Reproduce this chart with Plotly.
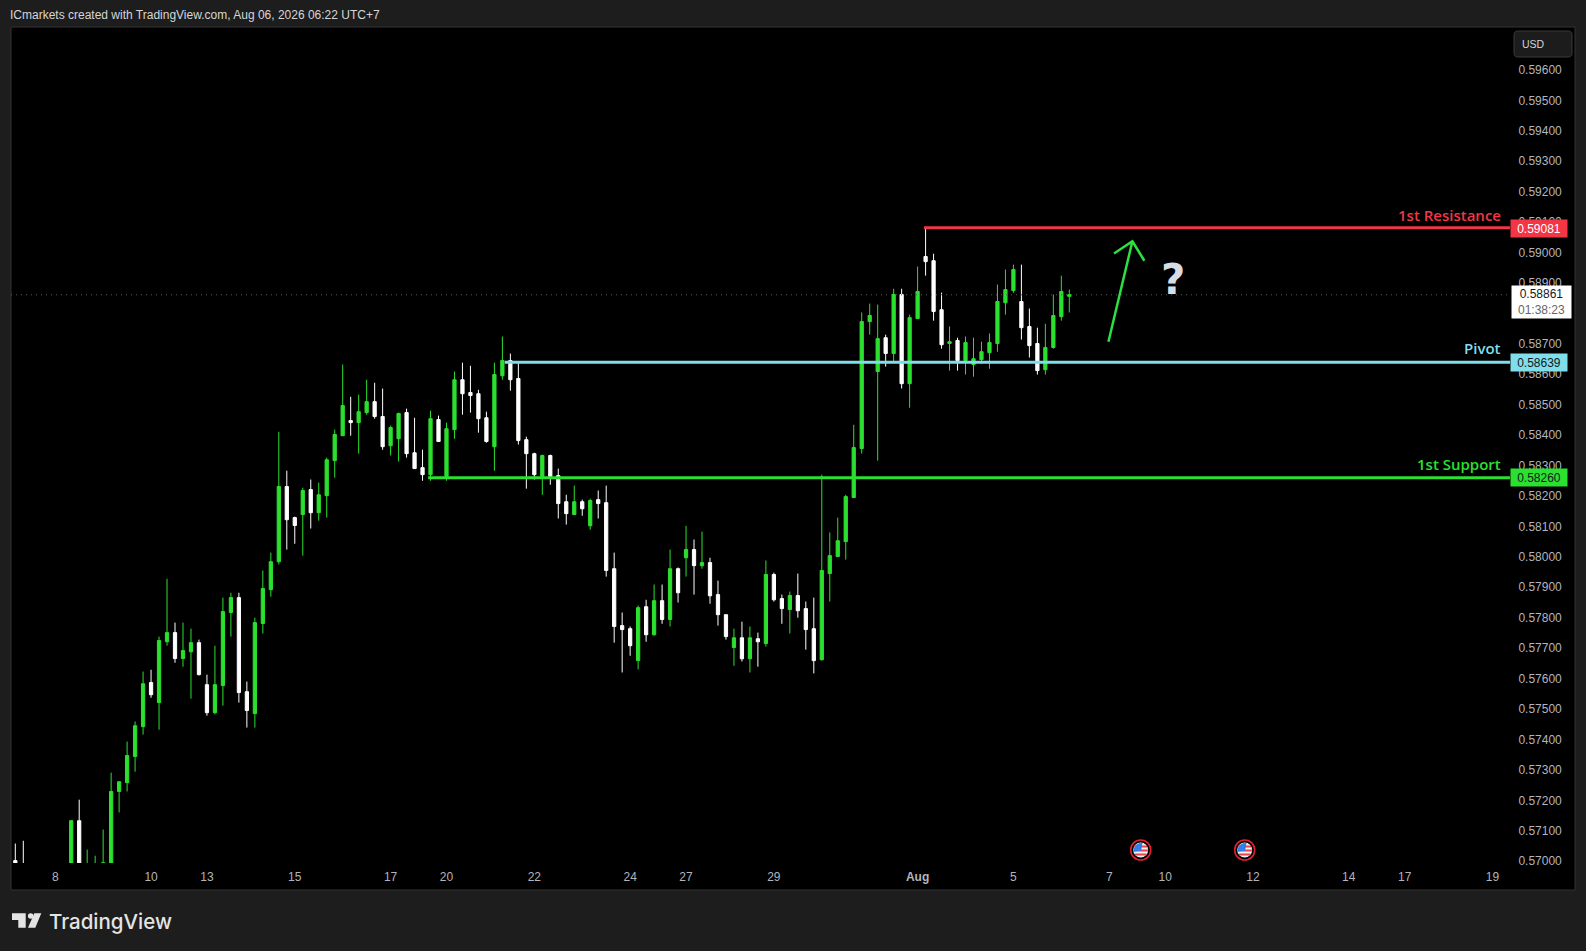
#!/usr/bin/env python3
"""NZD/USD style 4h candle chart with support / resistance levels."""
import math
import plotly.graph_objects as go

# candle data, index 0 is the leftmost bar (bars 0-6 sit mostly below the pane)
opens = [0.57002, 0.56985, 0.56960, 0.56950, 0.56960, 0.56950, 0.56955, 0.56950, 0.57133, 0.56940,
         0.56950, 0.56960, 0.56985, 0.57229, 0.57258, 0.57344, 0.57442, 0.57587, 0.57521, 0.57721,
         0.57751, 0.57666, 0.57688, 0.57718, 0.57580, 0.57488, 0.57577, 0.57817, 0.57866, 0.57557,
         0.57485, 0.57781, 0.57892, 0.57984, 0.58231, 0.58129, 0.58139, 0.58221, 0.58145, 0.58201,
         0.58316, 0.58398, 0.58448, 0.58441, 0.58474, 0.58510, 0.58461, 0.58365, 0.58388, 0.58474,
         0.58342, 0.58293, 0.58270, 0.58451, 0.58264, 0.58418, 0.58582, 0.58540, 0.58536, 0.58457,
         0.58362, 0.58595, 0.58645, 0.58586, 0.58385, 0.58339, 0.58264, 0.58333, 0.58267, 0.58181,
         0.58139, 0.58181, 0.58102, 0.58188, 0.58178, 0.57961, 0.57774, 0.57764, 0.57659, 0.57836,
         0.57744, 0.57856, 0.57794, 0.57961, 0.57997, 0.58024, 0.57971, 0.57981, 0.57876, 0.57810,
         0.57702, 0.57734, 0.57665, 0.57731, 0.57715, 0.57942, 0.57863, 0.57827, 0.57873, 0.57830,
         0.57764, 0.57662, 0.57945, 0.58001, 0.58050, 0.58195, 0.58356, 0.58773, 0.58609, 0.58720,
         0.58668, 0.58862, 0.58569, 0.58783, 0.58987, 0.58973, 0.58812, 0.58701, 0.58711, 0.58645,
         0.58632, 0.58648, 0.58671, 0.58701, 0.58835, 0.58875, 0.58839, 0.58757, 0.58701, 0.58615,
         0.58688, 0.58789, 0.58856]
highs = [0.57058, 0.57067, 0.56980, 0.56975, 0.56975, 0.56975, 0.56980, 0.57133, 0.57202, 0.57038,
         0.57018, 0.57104, 0.57291, 0.57261, 0.57393, 0.57459, 0.57623, 0.57629, 0.57738, 0.57928,
         0.57784, 0.57784, 0.57764, 0.57728, 0.57613, 0.57708, 0.57866, 0.57882, 0.57882, 0.57590,
         0.57800, 0.57955, 0.58014, 0.58411, 0.58283, 0.58132, 0.58227, 0.58254, 0.58244, 0.58326,
         0.58418, 0.58632, 0.58526, 0.58533, 0.58582, 0.58572, 0.58553, 0.58431, 0.58474, 0.58487,
         0.58457, 0.58352, 0.58480, 0.58464, 0.58441, 0.58609, 0.58638, 0.58628, 0.58549, 0.58477,
         0.58638, 0.58724, 0.58668, 0.58641, 0.58395, 0.58342, 0.58336, 0.58336, 0.58290, 0.58204,
         0.58234, 0.58188, 0.58191, 0.58218, 0.58234, 0.58014, 0.57817, 0.57771, 0.57840, 0.57859,
         0.57909, 0.57909, 0.58024, 0.57965, 0.58102, 0.58057, 0.58083, 0.57997, 0.57922, 0.57810,
         0.57764, 0.57787, 0.57771, 0.57751, 0.57988, 0.57948, 0.57876, 0.57886, 0.57945, 0.57853,
         0.57866, 0.58270, 0.58080, 0.58129, 0.58204, 0.58434, 0.58803, 0.58832, 0.58829, 0.58730,
         0.58881, 0.58881, 0.58796, 0.58954, 0.59079, 0.58996, 0.58868, 0.58757, 0.58720, 0.58724,
         0.58720, 0.58707, 0.58734, 0.58895, 0.58944, 0.58960, 0.58960, 0.58816, 0.58753, 0.58766,
         0.58862, 0.58924, 0.58878]
lows = [0.56950, 0.56930, 0.56900, 0.56900, 0.56900, 0.56900, 0.56910, 0.56930, 0.56940, 0.56920,
        0.56930, 0.56940, 0.56970, 0.57160, 0.57229, 0.57294, 0.57416, 0.57537, 0.57432, 0.57708,
        0.57652, 0.57639, 0.57534, 0.57610, 0.57478, 0.57482, 0.57511, 0.57738, 0.57521, 0.57439,
        0.57439, 0.57748, 0.57869, 0.57975, 0.58024, 0.58043, 0.58004, 0.58093, 0.58119, 0.58129,
        0.58260, 0.58398, 0.58398, 0.58339, 0.58467, 0.58454, 0.58352, 0.58333, 0.58313, 0.58326,
        0.58290, 0.58250, 0.58250, 0.58379, 0.58250, 0.58388, 0.58467, 0.58474, 0.58408, 0.58375,
        0.58283, 0.58582, 0.58546, 0.58369, 0.58224, 0.58254, 0.58204, 0.58237, 0.58126, 0.58106,
        0.58139, 0.58135, 0.58089, 0.58126, 0.57935, 0.57718, 0.57620, 0.57675, 0.57630, 0.57721,
        0.57741, 0.57780, 0.57771, 0.57850, 0.57935, 0.57876, 0.57961, 0.57846, 0.57774, 0.57728,
        0.57642, 0.57656, 0.57620, 0.57639, 0.57705, 0.57853, 0.57780, 0.57748, 0.57800, 0.57695,
        0.57617, 0.57659, 0.57853, 0.58001, 0.57991, 0.58195, 0.58339, 0.58730, 0.58316, 0.58625,
        0.58642, 0.58553, 0.58490, 0.58783, 0.58924, 0.58776, 0.58684, 0.58612, 0.58612, 0.58599,
        0.58592, 0.58635, 0.58618, 0.58674, 0.58796, 0.58868, 0.58714, 0.58655, 0.58599, 0.58599,
        0.58684, 0.58776, 0.58803]
closes = [0.56990, 0.56950, 0.56920, 0.56965, 0.56930, 0.56965, 0.56970, 0.57133, 0.56960, 0.56975,
          0.56985, 0.56995, 0.57229, 0.57261, 0.57347, 0.57445, 0.57583, 0.57547, 0.57725, 0.57751,
          0.57666, 0.57692, 0.57718, 0.57613, 0.57488, 0.57580, 0.57820, 0.57866, 0.57554, 0.57495,
          0.57784, 0.57896, 0.57984, 0.58231, 0.58122, 0.58103, 0.58218, 0.58145, 0.58204, 0.58319,
          0.58402, 0.58497, 0.58441, 0.58477, 0.58510, 0.58461, 0.58362, 0.58425, 0.58471, 0.58339,
          0.58290, 0.58270, 0.58454, 0.58379, 0.58421, 0.58582, 0.58536, 0.58530, 0.58454, 0.58379,
          0.58599, 0.58645, 0.58582, 0.58382, 0.58339, 0.58270, 0.58333, 0.58264, 0.58175, 0.58142,
          0.58181, 0.58158, 0.58185, 0.58175, 0.57955, 0.57771, 0.57761, 0.57708, 0.57833, 0.57744,
          0.57856, 0.57794, 0.57961, 0.57882, 0.58024, 0.57971, 0.57981, 0.57872, 0.57810, 0.57738,
          0.57734, 0.57665, 0.57734, 0.57721, 0.57942, 0.57859, 0.57830, 0.57873, 0.57823, 0.57761,
          0.57659, 0.57955, 0.58004, 0.58053, 0.58198, 0.58359, 0.58773, 0.58793, 0.58717, 0.58668,
          0.58862, 0.58569, 0.58786, 0.58872, 0.58970, 0.58806, 0.58697, 0.58707, 0.58645, 0.58704,
          0.58651, 0.58674, 0.58704, 0.58839, 0.58878, 0.58944, 0.58753, 0.58694, 0.58612, 0.58688,
          0.58793, 0.58872, 0.58861]

# axis ticks
price_ticks = [0.57000, 0.57100, 0.57200, 0.57300, 0.57400, 0.57500, 0.57600, 0.57700, 0.57800,
               0.57900, 0.58000, 0.58100, 0.58200, 0.58300, 0.58400, 0.58500, 0.58600, 0.58700,
               0.58800, 0.58900, 0.59000, 0.59100, 0.59200, 0.59300, 0.59400, 0.59500, 0.59600]
time_tick_pos = [5, 17, 24, 35, 47, 54, 65, 77, 84, 95, 113, 125, 137, 144, 155, 167, 174, 185]
time_tick_text = ["8", "10", "13", "15", "17", "20", "22", "24", "27", "29", "<b>Aug</b>", "5", "7",
                  "10", "12", "14", "17", "19"]

# drawn levels: name, price, first bar, colour
level_names = ["1st Resistance", "Pivot", "1st Support"]
level_prices = [0.59081, 0.58639, 0.58260]
level_starts = [113.8, 61.3, 51.7]
level_colors = ["#F23645", "#80DEEA", "#2BE02F"]
level_text_colors = ["#FFFFFF", "#131722", "#131722"]

last_price = 0.58861
countdown = "01:38:23"

# the hand drawn arrow
arrow_x = [136.9, 139.9, 137.6, 139.9, 141.4]
arrow_y = [0.58707, 0.59037, 0.58997, 0.59037, 0.58973]

GREEN = "#2BE02F"
WIDTH, HEIGHT = 1586, 951
PANE_L, PANE_R, PANE_T, PANE_B = 11, 1510, 27, 863
X_RANGE = [-0.54, 187.19]
Y_RANGE = [0.56994, 0.59741]


def fx(x):
    # pixel to paper, for the furniture around the chart
    return (x - PANE_L) / (PANE_R - PANE_L)


def fy(y):
    return 1 - (y - PANE_T) / (PANE_B - PANE_T)


def poly(points, fill):
    path = "M " + " L ".join(f"{fx(x):.5f},{fy(y):.5f}" for x, y in points) + " Z"
    return dict(type="path", xref="paper", yref="paper", path=path, fillcolor=fill, line_width=0, layer="above")


def circle(cx, cy, r, fill="rgba(0,0,0,0)", line=None, lw=0):
    return dict(type="circle", xref="paper", yref="paper", x0=fx(cx - r), x1=fx(cx + r), y0=fy(cy + r),
                y1=fy(cy - r), fillcolor=fill, line=dict(color=line or "rgba(0,0,0,0)", width=lw), layer="above")


def round_rect(x0, y0, x1, y1, r, fill, line):
    p = lambda x, y: f"{fx(x):.5f},{fy(y):.5f}"
    path = (f"M {p(x0 + r, y0)} L {p(x1 - r, y0)} Q {p(x1, y0)} {p(x1, y0 + r)} L {p(x1, y1 - r)} "
            f"Q {p(x1, y1)} {p(x1 - r, y1)} L {p(x0 + r, y1)} Q {p(x0, y1)} {p(x0, y1 - r)} "
            f"L {p(x0, y0 + r)} Q {p(x0, y0)} {p(x0 + r, y0)} Z")
    return dict(type="path", xref="paper", yref="paper", path=path, fillcolor=fill,
                line=dict(color=line, width=1), layer="above")


def flag_icon(cx, cy):
    # round US flag with the red ring of the economic calendar marker
    r = 7.5
    out = [circle(cx, cy, 10, "#000000", "#E0212E", 1.6), circle(cx, cy, r, "#F2F2F2")]
    for dy in [-3.5, 0.5, 4.5]:
        hw = math.sqrt(max(r * r - dy * dy, 0)) - 0.3
        out.append(poly([(cx - hw, cy + dy - 1), (cx + hw, cy + dy - 1), (cx + hw, cy + dy + 1), (cx - hw, cy + dy + 1)], "#E8414F"))
    wedge = [(cx + 0.5, cy + 0.5)]
    for deg in range(170, 281, 10):
        wedge.append((cx + 0.5 + r * math.cos(math.radians(deg)), cy + 0.5 + r * math.sin(math.radians(deg))))
    out.append(poly(wedge, "#2F80ED"))
    return out


fig = go.Figure()

fig.add_trace(go.Scatter(x=X_RANGE, y=[last_price, last_price], mode="lines", hoverinfo="skip",
                         line=dict(color="#5A5A5A", width=1, dash="1px 4px")))

for price, start, color in zip(level_prices, level_starts, level_colors):
    fig.add_trace(go.Scatter(x=[start, X_RANGE[1]], y=[price, price], mode="lines", hoverinfo="skip",
                             line=dict(color=color, width=3)))

fig.add_trace(go.Candlestick(
    x=list(range(len(opens))), open=opens, high=highs, low=lows, close=closes, hoverinfo="skip",
    whiskerwidth=0, line_width=1,
    increasing=dict(line=dict(color=GREEN, width=1), fillcolor=GREEN),
    decreasing=dict(line=dict(color="#FFFFFF", width=1), fillcolor="#FFFFFF"),
))

fig.add_trace(go.Scatter(x=arrow_x, y=arrow_y, mode="lines", hoverinfo="skip",
                         line=dict(color="#2BE03F", width=2.5)))

annotations = [
    dict(x=fx(8), y=fy(15), text="ICmarkets created with TradingView.com, Aug 06, 2026 06:22 UTC+7",
         xanchor="left", font=dict(color="#D6D6D6", size=12, family="Liberation Sans")),
    dict(x=fx(47), y=fy(921), text="TradingView", xanchor="left",
         font=dict(color="#E4E4E4", size=20.5, family="Inter", weight=500)),
    dict(x=fx(1533.5), y=fy(44), text="USD", font=dict(color="#D1D4DC", size=10.5, family="Liberation Sans")),
    dict(x=145, y=0.58911, xref="x", yref="y", text="<b>?</b>", showarrow=False,
         font=dict(color="#D5DDE5", size=42, family="DejaVu Sans")),
    dict(x=fx(1541), y=fy(301.5), width=57, height=30, bgcolor="#FFFFFF",
         text=f"{last_price:.5f}<br><span style='color:#666666'>{countdown}</span>",
         font=dict(color="#131722", size=12, family="Liberation Sans")),
]
label_rows = [215, 348, 464]
box_rows = [228.3, 362.3, 477.3]
for name, price, color, tcolor, ly, by in zip(level_names, level_prices, level_colors, level_text_colors, label_rows, box_rows):
    annotations.append(dict(x=fx(1503), y=fy(ly), text=name, xanchor="right",
                            font=dict(color=color, size=15, family="Open Sans", weight=600)))
    annotations.append(dict(x=fx(1539), y=fy(by), text=f"{price:.5f}", width=54, height=15, bgcolor=color,
                            font=dict(color=tcolor, size=12, family="Liberation Sans")))
for a in annotations:
    a.setdefault("xref", "paper")
    a.setdefault("yref", "paper")
    a.setdefault("showarrow", False)
    a.setdefault("xanchor", "center")
    a.setdefault("yanchor", "middle")

shapes = [dict(type="rect", xref="paper", yref="paper", x0=fx(11), x1=fx(1575), y0=fy(890), y1=fy(27),
               fillcolor="#000000", line=dict(color="#333333", width=1), layer="below")]
shapes.append(round_rect(1514, 31, 1572, 57, 4, "#1C1C1C", "#3A3A3A"))
# TradingView logo
shapes.append(poly([(12, 913.3), (25.7, 913.3), (25.7, 927.7), (18.3, 927.7), (18.3, 920), (12, 920)], "#E4E4E4"))
shapes.append(circle(30.7, 916, 2.8, "#E4E4E4"))
shapes.append(poly([(34.3, 913.3), (41.3, 913.3), (35.3, 927.7), (28, 927.7)], "#E4E4E4"))
shapes += flag_icon(1140.7, 850)
shapes += flag_icon(1244.7, 850)

fig.update_layout(
    width=WIDTH, height=HEIGHT, autosize=False,
    margin=dict(l=PANE_L, r=WIDTH - PANE_R, t=PANE_T, b=HEIGHT - PANE_B, pad=0),
    paper_bgcolor="#1D1D1D", plot_bgcolor="#000000",
    showlegend=False, boxgap=0.42, hovermode=False,
    annotations=annotations, shapes=shapes,
    xaxis=dict(range=X_RANGE, tickmode="array", tickvals=time_tick_pos, ticktext=time_tick_text,
               showgrid=False, zeroline=False, showline=False, rangeslider_visible=False,
               ticks="outside", ticklen=3, tickcolor="#000000",
               tickfont=dict(color="#B2B5BE", size=12, family="Liberation Sans")),
    yaxis=dict(range=Y_RANGE, side="right", tickmode="array", tickvals=price_ticks,
               ticktext=[f"{p:.5f}" for p in price_ticks], showgrid=False, zeroline=False, showline=False,
               ticks="outside", ticklen=5, tickcolor="#000000",
               tickfont=dict(color="#B2B5BE", size=12, family="Liberation Sans")),
)

fig.write_html("out.html", config={"displayModeBar": False}, post_script="document.body.style.margin='0';")
